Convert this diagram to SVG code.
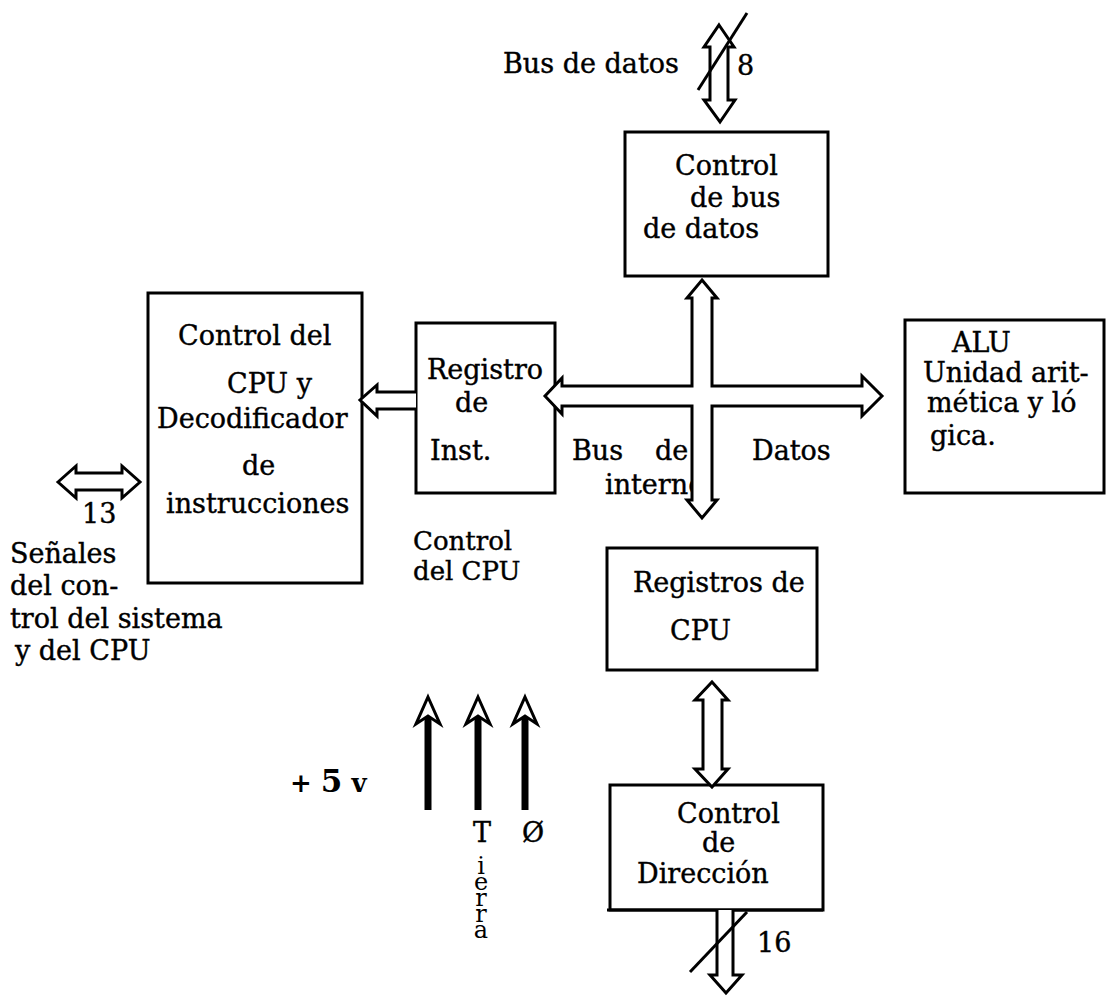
<svg xmlns="http://www.w3.org/2000/svg" width="1115" height="1003" viewBox="0 0 1115 1003">
<style>
.box{fill:none;stroke:#000;stroke-width:3}
.bus{fill:#fff;stroke:#000;stroke-width:3;stroke-linejoin:miter}
.t{font-family:"DejaVu Serif","Liberation Serif",serif;font-size:27px;fill:#000;stroke:#000;stroke-width:0.4}
.v{font-family:"DejaVu Serif","Liberation Serif",serif;font-size:24px;fill:#000;writing-mode:vertical-rl;text-orientation:upright;letter-spacing:-12px}
.b{font-family:"DejaVu Serif","Liberation Serif",serif;font-size:26px;font-weight:bold;fill:#000}
.ln{stroke:#000;stroke-width:3;fill:none}
.pw{stroke:#000;stroke-width:7;fill:none}
</style>
<rect width="1115" height="1003" fill="#fff"/>

<g id="control-bus-datos">
<rect class="box" x="625" y="132" width="203" height="144"/>
<text class="t" x="675" y="175">Control</text>
<text class="t" x="690" y="207">de bus</text>
<text class="t" x="643" y="238">de datos</text>
</g>

<g id="control-cpu">
<rect class="box" x="148" y="293" width="214" height="290"/>
<text class="t" x="178" y="345">Control del</text>
<text class="t" x="227" y="393">CPU y</text>
<text class="t" x="157" y="428">Decodificador</text>
<text class="t" x="242" y="475">de</text>
<text class="t" x="166" y="513">instrucciones</text>
</g>

<g id="registro-inst">
<rect class="box" x="416" y="323" width="139" height="170"/>
<text class="t" x="427" y="379">Registro</text>
<text class="t" x="455" y="412">de</text>
<text class="t" x="430" y="460">Inst.</text>
</g>

<g id="alu">
<rect class="box" x="905" y="320" width="199" height="173"/>
<text class="t" x="952" y="352">ALU</text>
<text class="t" x="923" y="382">Unidad arit-</text>
<text class="t" x="927" y="412">mética y ló</text>
<text class="t" x="930" y="445">gica.</text>
</g>

<g id="registros-cpu">
<rect class="box" x="607" y="548" width="210" height="122"/>
<text class="t" x="633" y="592">Registros de</text>
<text class="t" x="670" y="640">CPU</text>
</g>

<g id="control-direccion">
<rect class="box" x="610" y="785" width="213" height="125"/>
<line class="ln" x1="607" y1="910" x2="823" y2="910"/>
<text class="t" x="677" y="823">Control</text>
<text class="t" x="702" y="852">de</text>
<text class="t" x="637" y="883">Dirección</text>
</g>

<g id="labels">
<text class="t" x="503" y="73">Bus de datos</text>
<text class="t" x="737" y="75">8</text>
<text class="t" x="572" y="460">Bus</text>
<text class="t" x="655" y="460">de</text>
<text class="t" x="752" y="460">Datos</text>
<text class="t" x="605" y="494">interno</text>
<text class="t" x="413" y="550" style="font-size:26px">Control</text>
<text class="t" x="413" y="580" style="font-size:26px">del CPU</text>
<text class="t" x="82" y="523">13</text>
<text class="t" x="10" y="563">Señales</text>
<text class="t" x="10" y="595">del con-</text>
<text class="t" x="10" y="628">trol del sistema</text>
<text class="t" x="15" y="660">y del CPU</text>
<text class="b" x="290" y="792">+ <tspan style="font-size:31px">5</tspan> v</text>
<text class="t" x="473" y="842">T</text>
<text class="t" x="522" y="842">Ø</text>
<text class="v" x="481" y="852">ierra</text>
<text class="t" x="757" y="952">16</text>
</g>

<g id="connectors">
<path class="bus" d="M719,25 L734,47 L728,47 L728,100 L735,100 L720,122 L704,100 L710,100 L710,47 L704,47 Z"/>
<line class="ln" x1="698" y1="90" x2="747" y2="13"/>
<path class="bus" d="M702,280 L717,298 L712,298 L712,386 L862,386 L862,376 L882,396 L862,416 L862,406 L712,406 L712,500 L717,500 L702,518 L687,500 L692,500 L692,406 L562,406 L562,414 L545,396 L562,378 L562,386 L692,386 L692,298 L687,298 Z"/>
<path class="bus" d="M416,392 L377,392 L377,385 L360,400 L377,416 L377,409 L416,409"/>
<path class="bus" d="M58,482 L76,466 L76,473 L122,473 L122,466 L140,482 L122,498 L122,490 L76,490 L76,498 Z"/>
<path class="bus" d="M712,682 L728,700 L722,700 L722,769 L728,769 L712,787 L695,769 L703,769 L703,700 L695,700 Z"/>
<path class="bus" d="M717,910 L717,975 L710,975 L726,993 L742,975 L733,975 L733,910"/>
<line class="ln" x1="690" y1="972" x2="747" y2="912"/>
<line class="pw" x1="428" y1="716" x2="428" y2="810"/>
<line class="pw" x1="478" y1="716" x2="478" y2="810"/>
<line class="pw" x1="525" y1="716" x2="525" y2="810"/>
<path class="bus" d="M428,697 L440,724 L428,716 L416,724 Z"/>
<path class="bus" d="M478,697 L490,724 L478,716 L466,724 Z"/>
<path class="bus" d="M525,697 L537,724 L525,716 L513,724 Z"/>
</g>
</svg>
